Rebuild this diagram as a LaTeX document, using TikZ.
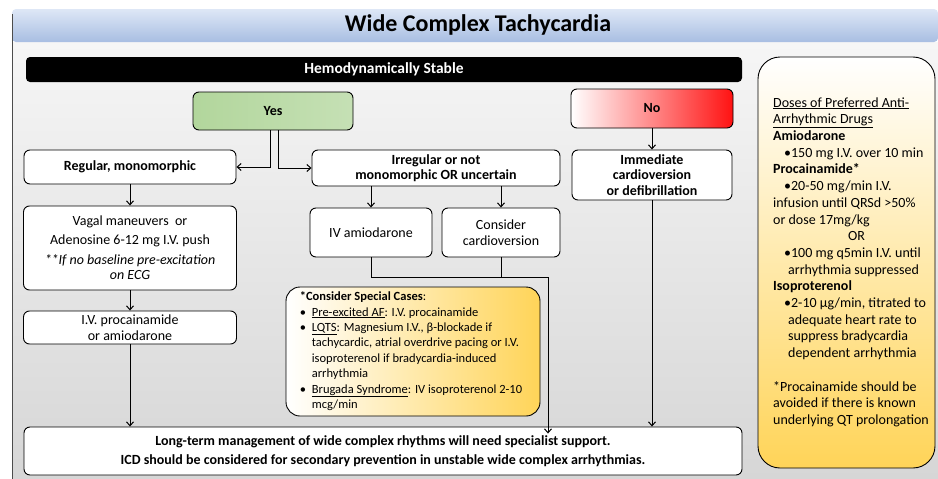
\documentclass[tikz,border=0pt]{standalone}
\usepackage{fontspec}
\setmainfont{Carlito}
\usetikzlibrary{positioning,calc,arrows.meta}
\definecolor{titleblue}{RGB}{168,190,226}
\definecolor{titlelight}{RGB}{222,231,246}
\definecolor{yesgreen}{RGB}{178,214,156}
\definecolor{yeslight}{RGB}{236,245,230}
\definecolor{nored}{RGB}{255,18,18}
\definecolor{gold}{RGB}{255,212,88}
\definecolor{panellight}{RGB}{246,246,246}
\definecolor{paneldark}{RGB}{214,214,214}

\begin{document}
\begin{tikzpicture}[x=1pt, y=-1pt,
            box/.style={draw, line width=0.9pt, rounded corners=6pt, fill=white,
                       align=center, inner sep=2pt, font=\fontsize{14}{15.5}\selectfont},
            boldbox/.style={box, font=\fontsize{14}{15.5}\selectfont\bfseries},
            arrow/.style={-{Straight Barb[length=4pt,width=7pt]}, line width=1pt},
            line/.style={line width=1pt}
        ]
            \useasboundingbox (0,0) rectangle (938,479);
            % Panel and title bar
            \shade[top color=panellight, bottom color=paneldark] (12,42) rectangle (938,479);
            \shade[top color=titlelight, bottom color=titleblue, rounded corners=4pt] (12,9) rectangle (938,42);
            \draw[gray!60!black, line width=1pt] (12,479) -- (12,14);
            \node[font=\fontsize{24}{28}\selectfont\bfseries] (title) at (478,25) {Wide Complex Tachycardia};

            % Decision row
            \node[fill=black, rounded corners=4pt, minimum width=716pt, minimum height=25pt,
                  text=white, font=\fontsize{15.5}{18}\selectfont\bfseries] (stable) at (384,69.5) {Hemodynamically Stable};
            \node[boldbox, left color=yesgreen, middle color=yeslight, right color=yesgreen!75,
                  minimum width=160pt, minimum height=38pt] (yes) at (273,111) {Yes};
            \node[boldbox, left color=white, right color=nored,
                  minimum width=162pt, minimum height=39pt] (no) at (652,108.5) {No};

            % Stable branch
            \node[boldbox, minimum width=212pt, minimum height=34pt] (regular) at (130,167) {Regular, monomorphic};
            \node[boldbox, minimum width=248pt, minimum height=36pt] (irregular) at (436,168) {Irregular or not\\monomorphic OR uncertain};
            \node[box, minimum width=213pt, minimum height=84pt] (vagal) at (130,248)
                {Vagal maneuvers\ \ or\\[3.5pt] Adenosine 6-12 mg I.V. push\\[4pt]
                 \textit{**If no baseline pre-excitation}\\ \textit{on ECG}};
            \node[box, minimum width=213pt, minimum height=33pt] (procam) at (130,327.5) {I.V. procainamide\\or amiodarone};
            \node[box, minimum width=122pt, minimum height=49pt] (ivamio) at (371,232.5) {IV amiodarone};
            \node[box, minimum width=118pt, minimum height=49pt] (cardiov) at (501,232.5) {Consider\\cardioversion};

            % Unstable branch
            \node[boldbox, minimum width=160pt, minimum height=50pt] (immediate) at (652,175) {Immediate\\cardioversion\\or defibrillation};

            % Special cases
            \node[draw, line width=0.9pt, rounded corners=14pt, left color=white, right color=gold,
                  minimum width=254pt, minimum height=129pt, inner sep=0pt,
                  font=\fontsize{12.5}{15.4}\selectfont] (special) at (413,351.5)
                {\begin{tabular}{@{}p{12pt}@{}l@{}}
                 \multicolumn{2}{@{}l@{}}{\textbf{*Consider Special Cases}:}\\
                 \textbullet & \underline{Pre-excited AF}: I.V. procainamide\\
                 \textbullet & \underline{LQTS}: Magnesium I.V., β-blockade if\\
                  & tachycardic, atrial overdrive pacing or I.V.\\
                  & isoproterenol if bradycardia-induced\\
                  & arrhythmia\\
                 \textbullet & \underline{Brugada Syndrome}: IV isoproterenol 2-10\\
                  & mcg/min
                 \end{tabular}\hspace*{4pt}};

            % Bottom box
            \node[boldbox, minimum width=718pt, minimum height=48pt] (longterm) at (383,451)
                {Long-term management of wide complex rhythms will need specialist support.\\[3pt]
                 ICD should be considered for secondary prevention in unstable wide complex arrhythmias.};

            % Doses panel
            \node[draw, line width=0.9pt, rounded corners=22pt, top color=white, bottom color=gold,
                  minimum width=177pt, minimum height=411pt, inner sep=0pt,
                  font=\fontsize{14}{16.7}\selectfont] (doses) at (846.5,262.5)
                {\begin{tabular}{@{\hspace{13pt}}l@{}}
                 \underline{Doses of Preferred Anti-}\\
                 \underline{Arrhythmic Drugs}\\
                 \textbf{Amiodarone}\\
                 \hspace*{11pt}\textbullet150 mg I.V. over 10 min\\
                 \textbf{Procainamide*}\\
                 \hspace*{11pt}\textbullet20-50 mg/min I.V.\\
                 infusion until QRSd >50\%\\
                 or dose 17mg/kg\\
                 \hspace*{75pt}OR\\
                 \hspace*{11pt}\textbullet100 mg q5min I.V. until\\
                 \hspace*{15pt}arrhythmia suppressed\\
                 \textbf{Isoproterenol}\\
                 \hspace*{11pt}\textbullet2-10 μg/min, titrated to\\
                 \hspace*{15pt}adequate heart rate to\\
                 \hspace*{15pt}suppress bradycardia\\
                 \hspace*{15pt}dependent arrhythmia\\
                 \relax\\
                 \relax*Procainamide should be\\
                 avoided if there is known\\
                 underlying QT prolongation
                 \end{tabular}\hspace*{4pt}};

            % Arrows
            \draw[arrow] ([xshift=-3pt]yes.south) |- (regular.east);
            \draw[arrow] ([xshift=5pt]yes.south) |- (irregular.west);
            \draw[arrow] (regular) -- (vagal);
            \draw[arrow] (vagal) -- (procam);
            \draw[arrow] (procam) -- (procam |- longterm.north);
            \draw[arrow] (ivamio |- irregular.south) -- (ivamio.north);
            \draw[arrow] (cardiov |- irregular.south) -- (cardiov.north);
            \coordinate (merge) at (548,277);
            \draw[line] (ivamio.south) |- (merge);
            \draw[line] (cardiov.south) -- (cardiov.south |- merge);
            \draw[arrow] (merge) -- ([yshift=-7pt]merge |- longterm.north);
            \draw[arrow] (no) -- (immediate);
            \draw[arrow] (immediate) -- (immediate |- longterm.north);
        \end{tikzpicture}
\end{document}
